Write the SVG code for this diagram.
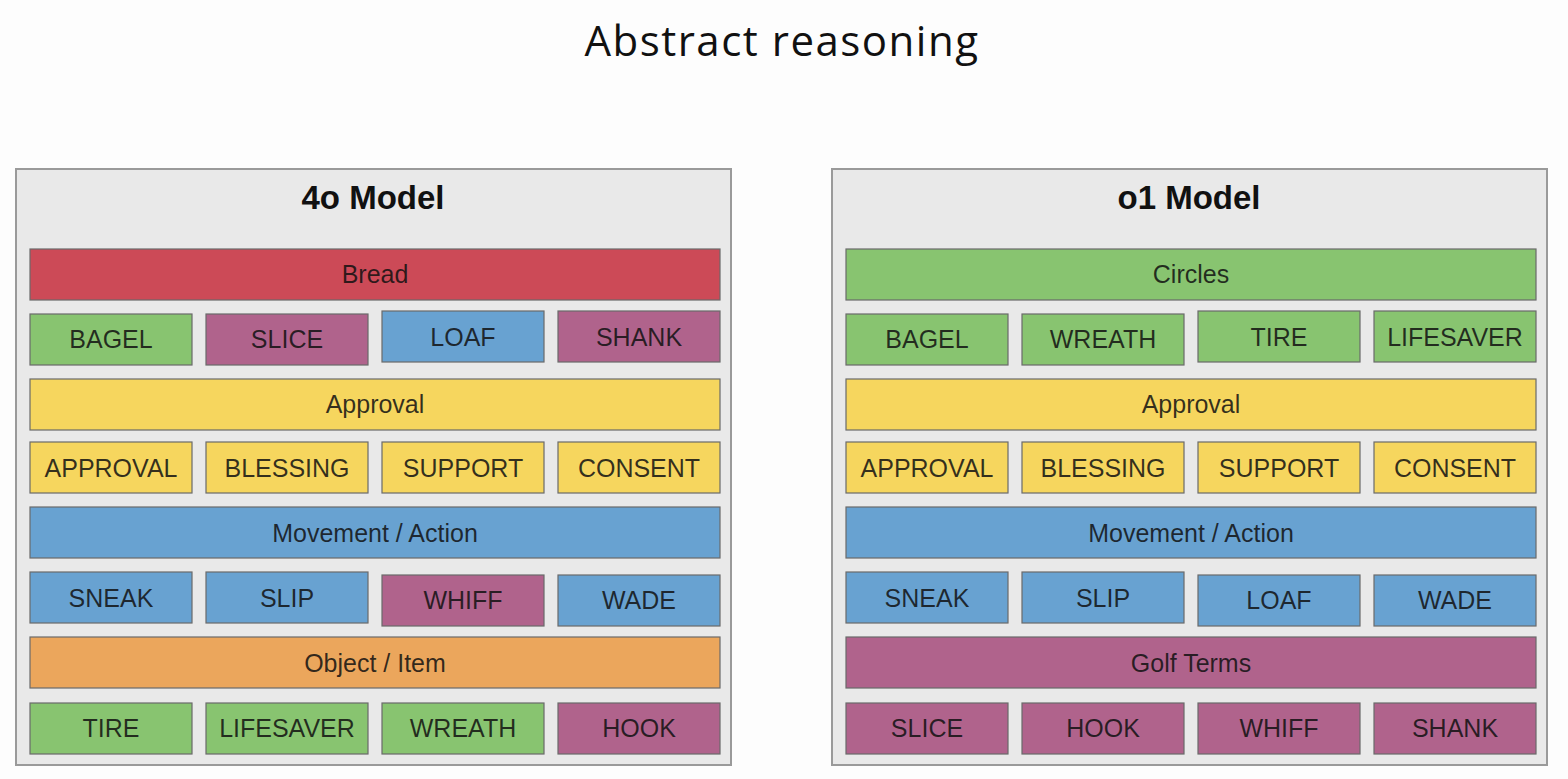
<svg xmlns="http://www.w3.org/2000/svg" width="1568" height="779" viewBox="0 0 1568 779">
<style>
.panel{fill:#e9e9e9;stroke:#9a9a9a;stroke-width:2}
.b{stroke:#6a6a6a;stroke-width:1.2}
.red{fill:#cc4a57}.grn{fill:#88c470}.pnk{fill:#b0638c}.blu{fill:#68a2d1}.yel{fill:#f6d65e}.org{fill:#eba65c}
.t{font-family:"Liberation Sans",Arial,sans-serif;font-size:25px;text-anchor:middle;fill:#111;fill-opacity:0.85}
.h{font-family:"Liberation Sans",Arial,sans-serif;font-size:33px;font-weight:bold;text-anchor:middle;fill:#111}
.title{font-family:"Open Sans","Noto Sans",sans-serif;font-size:42px;letter-spacing:1.5px;text-anchor:middle;fill:#111}
</style>
<rect width="1568" height="779" fill="#fdfdfd"/>
<text class="title" x="782" y="56">Abstract reasoning</text>

<g id="panel-4o">
<rect class="panel" x="16" y="169" width="715" height="596"/>
<text class="h" x="373" y="209">4o Model</text>
</g>
<g id="l-bread"><rect class="b red" x="30" y="249" width="690" height="51"/><text class="t" x="375" y="283">Bread</text></g>
<g id="l-bagel"><rect class="b grn" x="30" y="314" width="162" height="51"/><text class="t" x="111" y="348">BAGEL</text></g>
<g id="l-slice"><rect class="b pnk" x="206" y="314" width="162" height="51"/><text class="t" x="287" y="348">SLICE</text></g>
<g id="l-loaf"><rect class="b blu" x="382" y="311" width="162" height="51"/><text class="t" x="463" y="346">LOAF</text></g>
<g id="l-shank"><rect class="b pnk" x="558" y="311" width="162" height="51"/><text class="t" x="639" y="346">SHANK</text></g>
<g id="l-approval-cat"><rect class="b yel" x="30" y="379" width="690" height="51"/><text class="t" x="375" y="413">Approval</text></g>
<g id="l-approval"><rect class="b yel" x="30" y="442" width="162" height="51"/><text class="t" x="111" y="477">APPROVAL</text></g>
<g id="l-blessing"><rect class="b yel" x="206" y="442" width="162" height="51"/><text class="t" x="287" y="477">BLESSING</text></g>
<g id="l-support"><rect class="b yel" x="382" y="442" width="162" height="51"/><text class="t" x="463" y="477">SUPPORT</text></g>
<g id="l-consent"><rect class="b yel" x="558" y="442" width="162" height="51"/><text class="t" x="639" y="477">CONSENT</text></g>
<g id="l-movement"><rect class="b blu" x="30" y="507" width="690" height="51"/><text class="t" x="375" y="542">Movement / Action</text></g>
<g id="l-sneak"><rect class="b blu" x="30" y="572" width="162" height="51"/><text class="t" x="111" y="607">SNEAK</text></g>
<g id="l-slip"><rect class="b blu" x="206" y="572" width="162" height="51"/><text class="t" x="287" y="607">SLIP</text></g>
<g id="l-whiff"><rect class="b pnk" x="382" y="575" width="162" height="51"/><text class="t" x="463" y="609">WHIFF</text></g>
<g id="l-wade"><rect class="b blu" x="558" y="575" width="162" height="51"/><text class="t" x="639" y="609">WADE</text></g>
<g id="l-object"><rect class="b org" x="30" y="637" width="690" height="51"/><text class="t" x="375" y="672">Object / Item</text></g>
<g id="l-tire"><rect class="b grn" x="30" y="703" width="162" height="51"/><text class="t" x="111" y="737">TIRE</text></g>
<g id="l-lifesaver"><rect class="b grn" x="206" y="703" width="162" height="51"/><text class="t" x="287" y="737">LIFESAVER</text></g>
<g id="l-wreath"><rect class="b grn" x="382" y="703" width="162" height="51"/><text class="t" x="463" y="737">WREATH</text></g>
<g id="l-hook"><rect class="b pnk" x="558" y="703" width="162" height="51"/><text class="t" x="639" y="737">HOOK</text></g>

<g id="panel-o1">
<rect class="panel" x="832" y="169" width="715" height="596"/>
<text class="h" x="1189" y="209">o1 Model</text>
</g>
<g id="r-circles"><rect class="b grn" x="846" y="249" width="690" height="51"/><text class="t" x="1191" y="283">Circles</text></g>
<g id="r-bagel"><rect class="b grn" x="846" y="314" width="162" height="51"/><text class="t" x="927" y="348">BAGEL</text></g>
<g id="r-wreath"><rect class="b grn" x="1022" y="314" width="162" height="51"/><text class="t" x="1103" y="348">WREATH</text></g>
<g id="r-tire"><rect class="b grn" x="1198" y="311" width="162" height="51"/><text class="t" x="1279" y="346">TIRE</text></g>
<g id="r-lifesaver"><rect class="b grn" x="1374" y="311" width="162" height="51"/><text class="t" x="1455" y="346">LIFESAVER</text></g>
<g id="r-approval-cat"><rect class="b yel" x="846" y="379" width="690" height="51"/><text class="t" x="1191" y="413">Approval</text></g>
<g id="r-approval"><rect class="b yel" x="846" y="442" width="162" height="51"/><text class="t" x="927" y="477">APPROVAL</text></g>
<g id="r-blessing"><rect class="b yel" x="1022" y="442" width="162" height="51"/><text class="t" x="1103" y="477">BLESSING</text></g>
<g id="r-support"><rect class="b yel" x="1198" y="442" width="162" height="51"/><text class="t" x="1279" y="477">SUPPORT</text></g>
<g id="r-consent"><rect class="b yel" x="1374" y="442" width="162" height="51"/><text class="t" x="1455" y="477">CONSENT</text></g>
<g id="r-movement"><rect class="b blu" x="846" y="507" width="690" height="51"/><text class="t" x="1191" y="542">Movement / Action</text></g>
<g id="r-sneak"><rect class="b blu" x="846" y="572" width="162" height="51"/><text class="t" x="927" y="607">SNEAK</text></g>
<g id="r-slip"><rect class="b blu" x="1022" y="572" width="162" height="51"/><text class="t" x="1103" y="607">SLIP</text></g>
<g id="r-loaf"><rect class="b blu" x="1198" y="575" width="162" height="51"/><text class="t" x="1279" y="609">LOAF</text></g>
<g id="r-wade"><rect class="b blu" x="1374" y="575" width="162" height="51"/><text class="t" x="1455" y="609">WADE</text></g>
<g id="r-golf"><rect class="b pnk" x="846" y="637" width="690" height="51"/><text class="t" x="1191" y="672">Golf Terms</text></g>
<g id="r-slice"><rect class="b pnk" x="846" y="703" width="162" height="51"/><text class="t" x="927" y="737">SLICE</text></g>
<g id="r-hook"><rect class="b pnk" x="1022" y="703" width="162" height="51"/><text class="t" x="1103" y="737">HOOK</text></g>
<g id="r-whiff"><rect class="b pnk" x="1198" y="703" width="162" height="51"/><text class="t" x="1279" y="737">WHIFF</text></g>
<g id="r-shank"><rect class="b pnk" x="1374" y="703" width="162" height="51"/><text class="t" x="1455" y="737">SHANK</text></g>
<g id="connectors"></g>
</svg>
